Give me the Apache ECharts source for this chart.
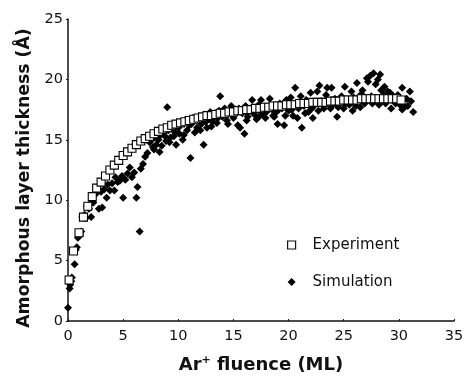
<!DOCTYPE html>
<html>
<head>
<meta charset="utf-8">
<script src="https://cdn.jsdelivr.net/npm/echarts@6/dist/echarts.min.js"></script>
<style>html,body{margin:0;padding:0;background:#fff;}#c{width:468px;height:379px;}</style>
</head>
<body>
<div id="c"></div>
<script>
var xTicks = [0, 5, 10, 15, 20, 25, 30, 35];
var yTicks = [0, 5, 10, 15, 20, 25];

var experimentX = [0.1,0.5,1.0,1.4,1.8,2.2,2.6,3.0,3.4,3.8,4.2,4.6,5.0,5.4,5.8,6.2,6.6,7.0,7.4,7.8,8.2,8.6,9.0,9.4,9.8,10.2,10.6,11.0,11.4,11.8,12.2,12.6,13.0,13.4,13.8,14.2,14.6,15.0,15.4,15.8,16.2,16.6,17.0,17.4,17.8,18.2,18.6,19.0,19.4,19.8,20.2,20.6,21.0,21.4,21.8,22.2,22.6,23.0,23.4,23.8,24.2,24.6,25.0,25.4,25.8,26.2,26.6,27.0,27.4,27.8,28.2,28.6,29.0,29.4,29.8,30.2];
var experimentY = [3.4,5.8,7.3,8.6,9.5,10.3,11.0,11.5,12.0,12.5,12.9,13.3,13.7,14.0,14.3,14.6,14.9,15.1,15.3,15.5,15.7,15.9,16.0,16.2,16.3,16.4,16.5,16.6,16.7,16.8,16.9,17.0,17.0,17.1,17.2,17.2,17.3,17.3,17.4,17.4,17.5,17.5,17.6,17.6,17.7,17.7,17.8,17.8,17.8,17.9,17.9,17.9,18.0,18.0,18.0,18.1,18.1,18.1,18.1,18.2,18.2,18.2,18.3,18.3,18.3,18.3,18.4,18.4,18.4,18.4,18.4,18.4,18.4,18.4,18.4,18.3];

var simulationX = [0,0.15,0.2,0.3,0.35,0.6,0.7,0.8,0.9,1.1,1.2,1.3,1.5,1.6,1.7,1.9,2.0,2.1,2.3,2.5,2.6,2.8,3.0,3.1,
3.3,3.5,3.6,3.8,4.0,4.2,4.3,4.5,4.7,4.9,5.0,5.2,5.4,5.6,5.8,6.0,6.2,6.3,6.5,6.6,6.8,7.0,7.2,
7.4,7.6,7.7,7.9,8.0,8.2,8.4,8.5,8.7,8.9,9.0,9.1,9.3,9.5,9.6,9.8,9.9,10.1,10.3,10.4,10.6,10.8,11.0,11.1,11.3,11.5,11.7,11.9,12.1,12.3,12.4,12.6,12.8,12.9,13.1,13.3,
13.5,13.7,13.8,14.0,14.2,14.4,14.6,14.8,15.0,15.2,15.4,15.6,15.8,16.0,16.1,16.3,16.5,16.7,16.9,17.1,17.3,17.5,17.7,17.9,18.1,18.3,18.5,18.7,18.9,19.0,19.2,19.4,19.6,19.8,20.0,
20.2,20.4,20.6,20.7,20.9,21.1,21.2,21.4,21.6,21.8,22.0,22.2,22.4,22.6,22.8,23.0,23.2,23.4,23.5,23.7,23.9,24.0,24.2,24.4,24.6,24.8,
25.0,25.1,25.3,25.5,25.7,25.9,26.1,26.2,26.4,26.6,26.7,26.9,27.1,27.2,27.4,27.5,27.7,27.9,28.1,28.3,28.4,28.6,28.7,28.9,29.0,29.2,29.4,29.5,29.7,29.9,30.1,30.3,30.3,30.5,30.7,31.0,31.1,31.3,
7.8,8.3,8.8,9.2,9.7,10.0,10.5,11.2,11.6,12.0,12.5,13.0,13.6,14.1,14.5,15.1,15.5,16.2,16.8,17.4,18.0,18.6,19.1,19.7,20.3,20.8,21.5,22.1,22.7,23.3,23.8,24.5,25.2,25.8,26.5,27.0,27.6,28.2,28.8,29.3,30.0,30.8];
var simulationY = [1.1,2.7,3.0,3.3,3.6,4.7,5.9,6.1,6.9,7.1,7.4,8.6,8.8,8.5,9.5,9.3,9.7,8.6,9.8,10.5,11.0,9.3,10.7,9.4,
10.9,10.2,11.3,10.8,11.4,10.8,11.9,11.5,11.6,12.0,10.2,11.7,12.2,12.7,11.9,12.3,10.2,11.1,7.4,12.6,13.0,13.6,13.9,
14.8,15.0,14.4,15.2,14.6,15.0,15.4,14.5,15.6,14.9,17.7,15.8,15.2,16.0,15.3,14.6,16.2,15.5,16.4,15.0,16.6,15.8,16.2,13.5,16.8,15.6,16.0,16.9,16.3,14.6,17.1,16.0,16.7,17.3,16.5,17.2,
16.4,17.4,18.6,16.9,17.6,16.6,17.3,17.8,16.8,17.5,16.2,16.0,17.2,15.5,17.8,16.9,17.6,18.3,17.1,16.7,17.9,18.3,17.2,16.8,17.7,18.4,17.5,16.9,17.3,16.3,18.0,17.6,16.2,18.3,17.4,
18.5,17.0,19.3,18.0,17.6,18.6,16.0,17.8,18.3,17.3,18.9,16.8,17.9,19.0,19.5,18.2,17.6,18.7,19.3,17.9,19.3,17.9,18.4,16.9,18.0,18.6,
17.6,19.4,18.2,17.9,19.0,18.5,17.8,19.7,18.3,18.8,19.1,18.0,20.1,19.8,20.3,18.6,20.5,19.6,20.0,20.4,19.1,18.7,19.4,18.2,19.0,18.9,18.3,18.6,18.0,18.7,17.9,19.3,17.5,17.7,18.4,19.0,18.2,17.3,
14.2,14.0,15.3,14.8,15.6,16.0,15.4,16.3,16.6,15.8,16.5,16.1,16.8,17.1,16.3,17.1,17.6,16.6,17.4,17.0,17.3,17.0,17.5,17.0,17.5,16.8,17.2,17.6,17.4,18.0,17.6,17.7,18.0,17.4,17.7,18.2,18.0,17.9,18.0,17.6,18.2,17.8];

function zip(a, b) { return a.map(function (v, i) { return [v, b[i]]; }); }

var chart = echarts.init(document.getElementById('c'), null, {renderer: 'canvas'});
var FONT = 'DejaVu Sans, Liberation Sans, Arial, sans-serif';
var axisFont = {fontFamily: FONT, fontSize: 14.5, color: '#111'};
chart.setOption({
  animation: false,
  backgroundColor: '#fff',
  grid: {left: 68, right: 14, top: 19, bottom: 50, containLabel: false},
  xAxis: {
    type: 'value', min: xTicks[0], max: xTicks[xTicks.length - 1], interval: 5,
    name: '{a|Ar}{s|+}{a| fluence (ML)}',
    nameLocation: 'middle', nameGap: 34,
    nameTextStyle: {
      rich: {
        a: {fontFamily: FONT, fontSize: 18, fontWeight: 'bold', color: '#111'},
        s: {fontFamily: FONT, fontSize: 11, fontWeight: 'bold', color: '#111', padding: [0, 0, 9, 0]}
      }
    },
    axisLine: {show: true, lineStyle: {color: '#111', width: 1.5}},
    axisTick: {show: true, inside: true, length: 2, lineStyle: {color: '#111'}},
    axisLabel: Object.assign({margin: 8}, axisFont),
    splitLine: {show: false}
  },
  yAxis: {
    type: 'value', min: yTicks[0], max: yTicks[yTicks.length - 1], interval: 5,
    name: 'Amorphous layer thickness (Å)',
    nameLocation: 'middle', nameGap: 35, nameRotate: 90,
    nameTextStyle: {fontFamily: FONT, fontSize: 17.3, fontWeight: 'bold', color: '#111', padding: [0, 16, 0, 0]},
    axisLine: {show: true, lineStyle: {color: '#111', width: 1.5}},
    axisTick: {show: true, length: 2, lineStyle: {color: '#111'}},
    axisLabel: Object.assign({margin: 5}, axisFont),
    splitLine: {show: false}
  },
  legend: {
    orient: 'vertical', left: 282, top: 232, itemGap: 21,
    itemWidth: 8, itemHeight: 8,
    textStyle: {fontFamily: FONT, fontSize: 15, lineHeight: 16, color: '#111', padding: [0, 0, 0, 12]},
    data: [
      {name: 'Experiment', icon: 'rect', itemStyle: {color: '#fff', borderColor: '#111', borderWidth: 1.2}},
      {name: 'Simulation', icon: 'diamond', itemStyle: {color: '#000'}}
    ]
  },
  series: [
    {
      name: 'Simulation', type: 'scatter', symbol: 'diamond', symbolSize: 8,
      itemStyle: {color: '#000', opacity: 1}, z: 2,
      data: zip(simulationX, simulationY)
    },
    {
      name: 'Experiment', type: 'scatter', symbol: 'rect', symbolSize: 8,
      itemStyle: {color: '#fff', borderColor: '#000', borderWidth: 1.1, opacity: 1}, z: 3,
      data: zip(experimentX, experimentY)
    }
  ]
});
</script>
</body>
</html>
